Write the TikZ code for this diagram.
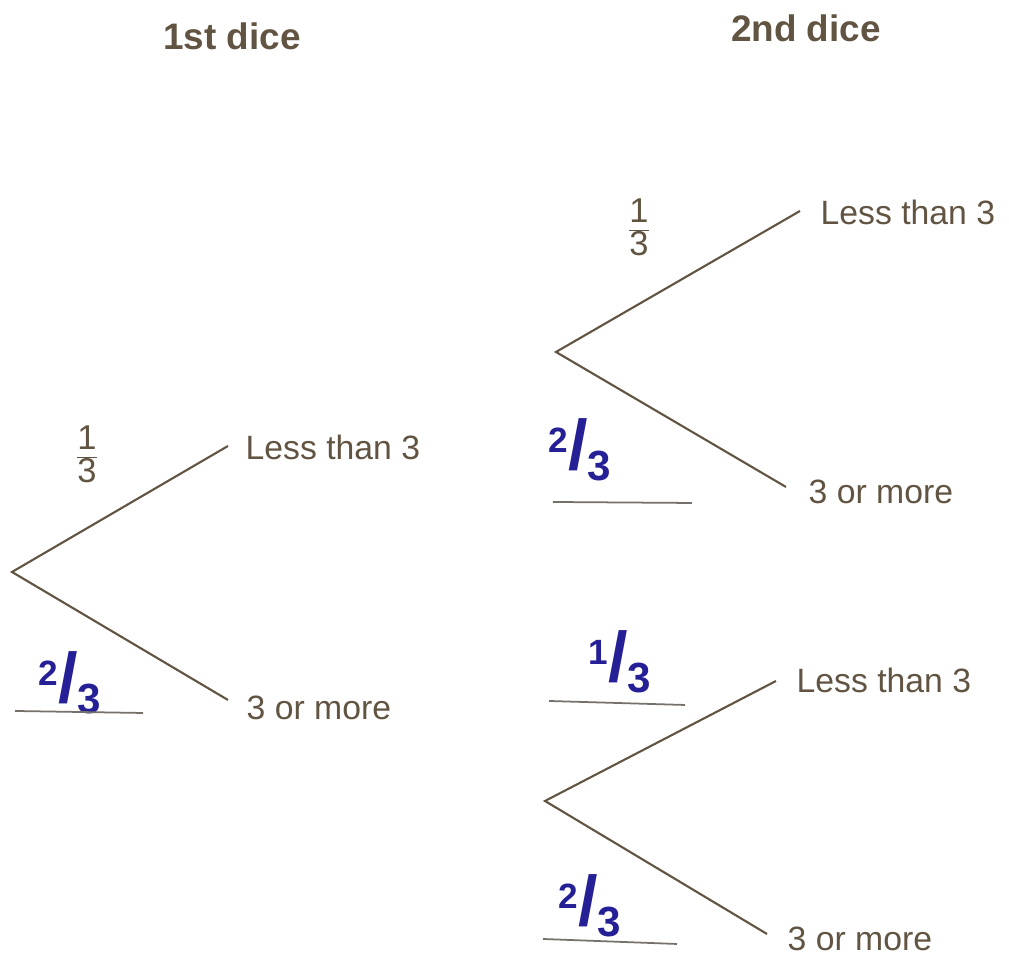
\documentclass[tikz,border=0pt]{standalone}
\usepackage{fontspec}
\setmainfont{Liberation Sans}
\usetikzlibrary{positioning}
\definecolor{ink}{RGB}{98,84,66}
\definecolor{pen}{RGB}{38,32,150}
\definecolor{blankline}{RGB}{118,112,106}
\newcommand{\printfrac}[2]{{\renewcommand{\arraystretch}{0.9}\begin{tabular}{@{}c@{}}#1\\[-1pt]\hline #2\end{tabular}}}
\newcommand{\handfrac}[2]{\raisebox{5pt}{\fontsize{10}{10}\selectfont #1}{\fontsize{20}{20}\selectfont /}\raisebox{-3pt}{\fontsize{12}{12}\selectfont #2}}

\begin{document}
\begin{tikzpicture}[
  branch/.style={ink, line width=0.6pt},
  outcome/.style={anchor=west, inner sep=0pt, text=ink, font=\fontsize{9.6}{11}\selectfont},
  title/.style={text=ink, font=\bfseries\fontsize{10.5}{12}\selectfont},
  prob/.style={text=ink, inner sep=0pt, font=\fontsize{9.8}{11}\selectfont},
  hand/.style={text=pen, inner sep=0pt, font=\bfseries},
  blank/.style={blankline, line width=0.5pt}
]
\useasboundingbox (0,0) rectangle (10.09,-9.54);

\node[title] (first) at (2.32,-0.36) {1st dice};
\node[title] (second) at (8.06,-0.28) {2nd dice};

% first dice
\coordinate (r1) at (0.12,-5.72);
\coordinate (a1) at (2.28,-4.46);
\coordinate (b1) at (2.28,-7.00);
\draw[branch] (a1) -- (r1) -- (b1);
\node[outcome] (less1) at (2.45,-4.47) {Less than 3};
\node[outcome] (more1) at (2.46,-7.08) {3 or more};
\node[prob] (p1) at (0.87,-4.59) {\printfrac{1}{3}};
\node[hand] (q1) at (0.70,-6.83) {\handfrac{2}{3}};
\draw[blank] (0.15,-7.11) -- (1.43,-7.13);

% second dice, upper
\coordinate (r2) at (5.56,-3.52);
\coordinate (a2) at (8.00,-2.11);
\coordinate (b2) at (7.86,-4.87);
\draw[branch] (a2) -- (r2) -- (b2);
\node[outcome] (less2) at (8.20,-2.12) {Less than 3};
\node[outcome] (more2) at (8.08,-4.92) {3 or more};
\node[prob] (p2) at (6.39,-2.32) {\printfrac{1}{3}};
\node[hand] (q2) at (5.80,-4.50) {\handfrac{2}{3}};
\draw[blank] (5.53,-5.02) -- (6.92,-5.03);

% second dice, lower
\coordinate (r3) at (5.45,-8.01);
\coordinate (a3) at (7.76,-6.81);
\coordinate (b3) at (7.67,-9.34);
\draw[branch] (a3) -- (r3) -- (b3);
\node[outcome] (less3) at (7.96,-6.80) {Less than 3};
\node[outcome] (more3) at (7.87,-9.39) {3 or more};
\node[hand] (p3) at (6.20,-6.62) {\handfrac{1}{3}};
\node[hand] (q3) at (5.90,-9.06) {\handfrac{2}{3}};
\draw[blank] (5.49,-7.01) -- (6.85,-7.05);
\draw[blank] (5.43,-9.39) -- (6.77,-9.44);
\end{tikzpicture}
\end{document}
